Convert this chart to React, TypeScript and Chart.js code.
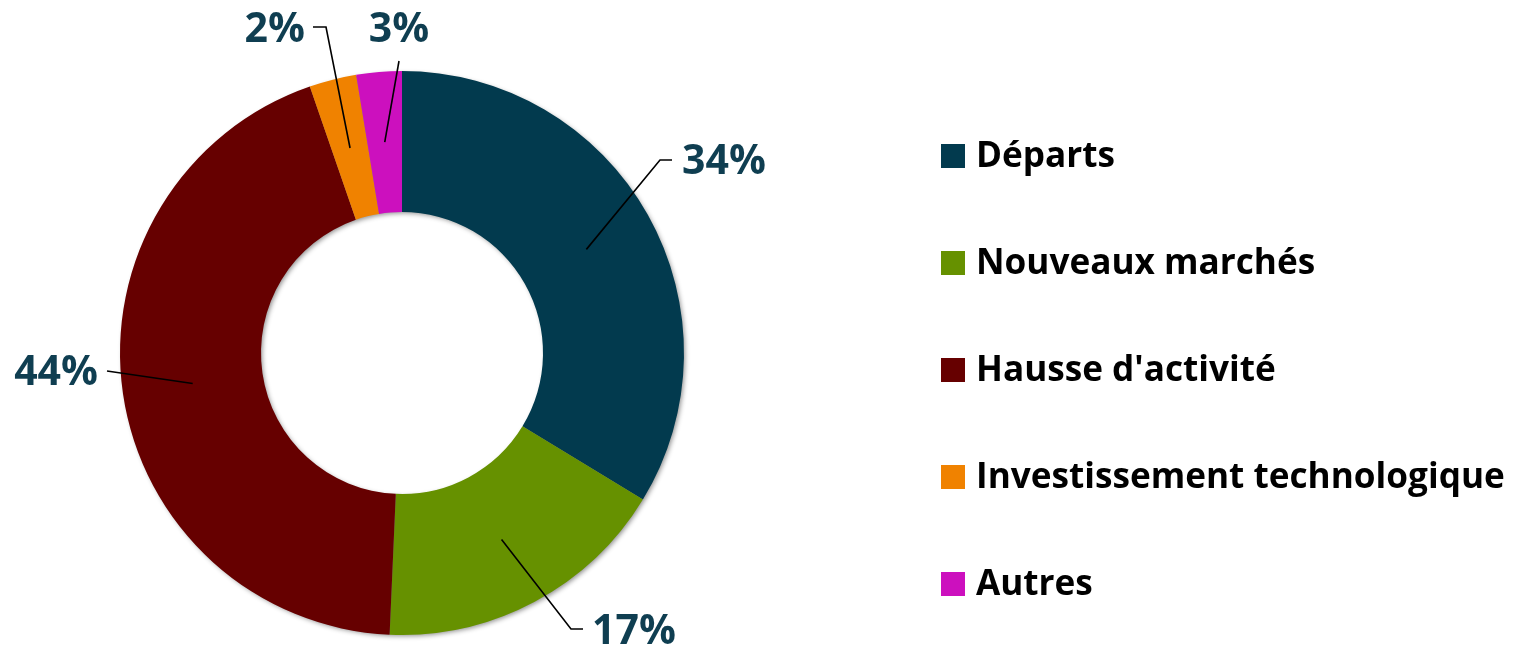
import React, { useEffect, useRef } from "react";
import { Chart, registerables } from "chart.js";

Chart.register(...registerables);

const categories = ["Départs", "Nouveaux marchés", "Hausse d'activité", "Investissement technologique", "Autres"];
const values = [33.7, 17.0, 44.0, 2.7, 2.6];
const valueLabels = ["34%", "17%", "44%", "2%", "3%"];
const colors = ["#023A4E", "#669100", "#660000", "#F08200", "#CC10BE"];

// label layout: elbow point & text anchor, relative to chart center (px)
const labelLayout = [
  { elbow: [258, -193], end: [270, -193], text: [280, -191], align: "left" },
  { elbow: [169, 276], end: [181, 276], text: [190, 279], align: "left" },
  { elbow: null, end: [-295, 18], text: [-304, 20], align: "right" },
  { elbow: [-76, -326], end: [-89, -326], text: [-97, -323], align: "right" },
  { elbow: null, end: [-3, -292], text: [-3, -323], align: "center" },
];

const FONT = "'Open Sans', 'Noto Sans', sans-serif";

const ringShadow = {
  id: "ringShadow",
  beforeDatasetsDraw(chart: any) {
    const meta = chart.getDatasetMeta(0);
    const a = meta.data[0];
    if (!a) return;
    const { x, y, outerRadius, innerRadius } = a.getProps(["x", "y", "outerRadius", "innerRadius"], true);
    const ctx = chart.ctx;
    ctx.save();
    ctx.shadowColor = "rgba(0,0,0,0.45)";
    ctx.shadowBlur = 5;
    ctx.shadowOffsetX = 2;
    ctx.shadowOffsetY = 2;
    ctx.fillStyle = "#888";
    ctx.beginPath();
    ctx.arc(x, y, outerRadius - 1, 0, Math.PI * 2);
    ctx.arc(x, y, innerRadius + 1, 0, Math.PI * 2, true);
    ctx.fill();
    ctx.restore();
  },
};

const labelsPlugin = {
  id: "leaderLabels",
  afterDatasetsDraw(chart: any) {
    const meta = chart.getDatasetMeta(0);
    const ctx = chart.ctx;
    meta.data.forEach((arc: any, i: number) => {
      const { x, y, startAngle, endAngle, outerRadius, innerRadius } = arc.getProps(
        ["x", "y", "startAngle", "endAngle", "outerRadius", "innerRadius"],
        true
      );
      const mid = (startAngle + endAngle) / 2;
      const r = (outerRadius + innerRadius) / 2;
      const ax = x + Math.cos(mid) * r;
      const ay = y + Math.sin(mid) * r;
      const L = labelLayout[i];
      ctx.save();
      ctx.strokeStyle = "#000";
      ctx.lineWidth = 1.6;
      ctx.beginPath();
      ctx.moveTo(ax, ay);
      if (L.elbow) ctx.lineTo(x + L.elbow[0], y + L.elbow[1]);
      ctx.lineTo(x + L.end[0], y + L.end[1]);
      ctx.stroke();
      ctx.fillStyle = "#0F3E51";
      ctx.font = `bold 41px ${FONT}`;
      ctx.textAlign = L.align as CanvasTextAlign;
      ctx.textBaseline = "middle";
      ctx.fillText(valueLabels[i], x + L.text[0], y + L.text[1]);
      ctx.restore();
    });
  },
};

const legendPlugin = {
  id: "customLegend",
  afterDraw(chart: any) {
    const ctx = chart.ctx;
    const labels = chart.data.labels as string[];
    const bg = chart.data.datasets[0].backgroundColor as string[];
    ctx.save();
    ctx.font = `bold 100px ${FONT}`;
    const w = ctx.measureText(labels[3]).width;
    const size = Math.min(40, (100 * 529) / w);
    ctx.font = `bold ${size}px ${FONT}`;
    ctx.textBaseline = "middle";
    ctx.textAlign = "left";
    labels.forEach((lab, i) => {
      const cy = 156 + i * 107;
      ctx.fillStyle = bg[i];
      ctx.fillRect(941, cy - 12, 24, 24);
      ctx.fillStyle = "#000";
      ctx.fillText(lab, 976, cy + 1);
    });
    ctx.restore();
  },
};

export default function App() {
  const ref = useRef<HTMLCanvasElement>(null);
  useEffect(() => {
    if (!ref.current) return;
    const chart = new Chart(ref.current, {
      type: "doughnut",
      data: {
        labels: categories,
        datasets: [
          {
            data: values,
            backgroundColor: colors,
            borderWidth: 0,
          },
        ],
      },
      options: {
        responsive: false,
        animation: false,
        cutout: "50%",
        layout: { padding: { left: 120, top: 71, right: 833, bottom: 14 } },
        plugins: {
          legend: { display: false },
          tooltip: { enabled: false },
        },
      },
      plugins: [ringShadow, labelsPlugin, legendPlugin],
    });
    return () => chart.destroy();
  }, []);
  return (
    <div style={{ position: "absolute", left: 0, top: 0, width: 1517, height: 649, background: "#fff" }}>
      <canvas ref={ref} width={1517} height={649} style={{ display: "block" }} />
    </div>
  );
}
